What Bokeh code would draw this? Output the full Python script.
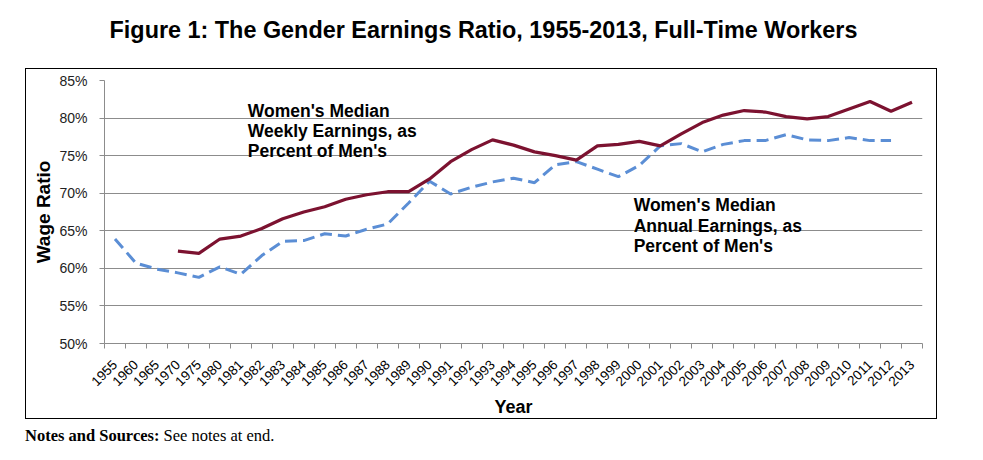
import math
import numpy as np
from bokeh.plotting import figure
from bokeh.layouts import column
from bokeh.models import (Range1d, LinearAxis, FixedTicker, SingleIntervalTicker,
                          PrintfTickFormatter, CustomJSTickFormatter, Label, Div,
                          ColumnDataSource)
from bokeh.embed import file_html
from bokeh.resources import INLINE

NaN = float("nan")

title_text = "Figure 1: The Gender Earnings Ratio, 1955-2013, Full-Time Workers"

years = ["1955", "1960", "1965", "1970", "1975", "1980", "1981", "1982", "1983", "1984",
         "1985", "1986", "1987", "1988", "1989", "1990", "1991", "1992", "1993", "1994",
         "1995", "1996", "1997", "1998", "1999", "2000", "2001", "2002", "2003", "2004",
         "2005", "2006", "2007", "2008", "2009", "2010", "2011", "2012", "2013"]

weekly = [NaN, NaN, NaN, 62.3, 62.0, 63.9, 64.3, 65.3, 66.6, 67.5,
          68.2, 69.2, 69.8, 70.2, 70.2, 71.9, 74.2, 75.8, 77.1, 76.4,
          75.5, 75.0, 74.4, 76.3, 76.5, 76.9, 76.3, 77.9, 79.4, 80.4,
          81.0, 80.8, 80.2, 79.9, 80.2, 81.2, 82.2, 80.9, 82.1]

annual = [63.9, 60.7, 59.9, 59.4, 58.8, 60.2, 59.2, 61.7, 63.6, 63.7,
          64.6, 64.3, 65.2, 65.9, 68.7, 71.6, 69.9, 70.8, 71.5, 72.0,
          71.4, 73.8, 74.2, 73.2, 72.2, 73.7, 76.3, 76.6, 75.5, 76.5,
          77.0, 77.0, 77.8, 77.1, 77.0, 77.4, 77.0, 77.0, NaN]

FONT = "Liberation Sans"
RED = "#7C1230"
BLUE = "#5B8ED5"
GRID = "#8c8c8c"

n = len(years)
centers = (np.arange(n) + 0.5).tolist()   # category slot centres
edges = np.arange(n + 1).tolist()         # category slot boundaries

src = ColumnDataSource(dict(x=centers, year=years, weekly=weekly, annual=annual))

fig = figure(x_range=Range1d(0, n), y_range=Range1d(50, 85),
             frame_width=816, frame_height=261,
             min_border_left=78, min_border_right=16, min_border_top=11,
             min_border_bottom=76,
             x_axis_location=None, y_axis_location="left",
             output_backend="svg", toolbar_location=None,
             background_fill_color="white", border_fill_color="white",
             margin=(0, 0, 0, 25),
             styles={"border": "1.5px solid black"})
fig.outline_line_color = None
fig.xgrid.visible = False

# y axis
ya = fig.yaxis[0]
ya.ticker = SingleIntervalTicker(interval=5)
ya.formatter = PrintfTickFormatter(format="%d%%")
ya.axis_label = "Wage Ratio"
ya.axis_label_text_font = FONT
ya.axis_label_text_font_size = "19px"
ya.axis_label_text_font_style = "bold"
ya.axis_label_text_color = "black"
ya.axis_label_standoff = 2
ya.major_label_text_font = FONT
ya.major_label_text_font_size = "14px"
ya.major_label_text_color = "#222222"
ya.major_label_standoff = 12
ya.major_tick_in = 0
ya.major_tick_out = 5
ya.major_tick_line_color = GRID
ya.minor_tick_line_color = None
ya.axis_line_color = GRID

fig.ygrid.ticker = ya.ticker
fig.ygrid.grid_line_color = GRID
fig.ygrid.grid_line_width = 1

# x axis: labels at slot centres, tick marks at slot boundaries
xa = LinearAxis(ticker=FixedTicker(ticks=centers, minor_ticks=edges),
                formatter=CustomJSTickFormatter(args=dict(years=years),
                                                code="return years[Math.floor(tick)] || '';"),
                major_tick_in=0, major_tick_out=0, major_tick_line_color=None,
                minor_tick_in=0, minor_tick_out=5, minor_tick_line_color=GRID,
                axis_line_color=GRID,
                major_label_orientation=math.pi / 4,
                major_label_text_font=FONT,
                major_label_text_font_size="13.5px",
                major_label_text_color="black",
                major_label_standoff=14,
                axis_label="Year", axis_label_text_font=FONT,
                axis_label_text_font_size="18px",
                axis_label_text_font_style="bold",
                axis_label_text_color="black",
                axis_label_standoff=4)
fig.add_layout(xa, "below")

# data lines
fig.line(x="x", y="annual", source=src, line_color=BLUE, line_width=3,
         line_dash="12 6")
fig.line(x="x", y="weekly", source=src, line_color=RED, line_width=3.2)

# annotations
lab_kw = dict(text_font=FONT, text_font_size="17.5px", text_font_style="bold",
              text_color="black", text_baseline="middle", text_align="left")
for txt, yv in [("Women's Median", 81.0), ("Weekly Earnings, as", 78.3),
                ("Percent of Men's", 75.6)]:
    fig.add_layout(Label(x=6.83, y=yv, text=txt, **lab_kw))
for txt, yv in [("Women's Median", 68.4), ("Annual Earnings, as", 65.7),
                ("Percent of Men's", 63.0)]:
    fig.add_layout(Label(x=25.23, y=yv, text=txt, **lab_kw))

title_div = Div(
    text=(f'<div style="font-family:\'Liberation Sans\';font-weight:bold;font-size:23.4px;'
          f'color:black;text-align:center;line-height:60px;width:967px;">{title_text}</div>'),
    width=967, height=68, margin=(0, 0, 0, 0))

notes_div = Div(
    text=('<div style="font-family:\'Liberation Serif\';font-size:16.5px;color:black;'
          'line-height:34px;white-space:nowrap;"><b>Notes and Sources:</b> See notes at end.</div>'),
    width=500, height=38, margin=(0, 0, 0, 25))

p = column(title_div, fig, notes_div, spacing=0, margin=(0, 0, 0, 0))

open("out.html", "w").write(file_html(p, INLINE))
